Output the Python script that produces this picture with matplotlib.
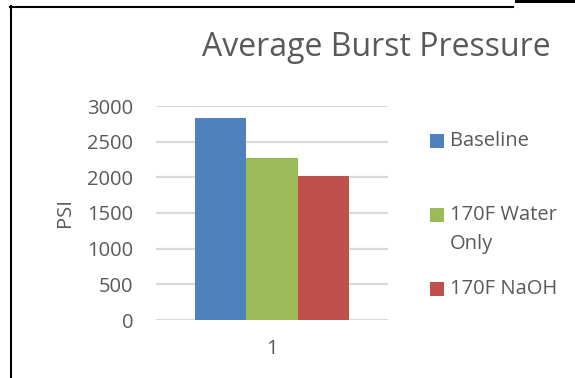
import matplotlib
matplotlib.use("Agg")
import matplotlib.pyplot as plt
from matplotlib.patches import Rectangle
from matplotlib.lines import Line2D

plt.rcParams['font.family'] = ['Open Sans', 'DejaVu Sans']

title = "Average Burst Pressure"
ylabel = "PSI"
categories = ["1"]
series_names = ["Baseline", "170F Water\nOnly", "170F NaOH"]
series_values = [2830, 2270, 2020]
series_colors = ["#4F81BD", "#9BBB59", "#C0504D"]
yticks = [0, 500, 1000, 1500, 2000, 2500, 3000]

W, H = 575, 378
TXT = "#595959"
FS = 14.5
fig = plt.figure(figsize=(W / 100, H / 100), dpi=100)
fig.patch.set_facecolor("white")

def fx(px):
    return px / W

def fy(py):
    return 1 - py / H

ax = fig.add_axes([fx(156), fy(320), fx(388) - fx(156), fy(106) - fy(320)])
ax.set_ylim(0, 3000)
ax.set_xlim(0.5, 1.5)

bw = 0.2227
n = len(series_values)
for i, (name, val, col) in enumerate(zip(series_names, series_values, series_colors)):
    ax.bar(1 + (i - (n - 1) / 2) * bw, val, width=bw, color=col, zorder=3)

ax.set_yticks(yticks)
ax.set_yticklabels([str(t) for t in yticks])
ax.set_xticks([1])
ax.set_xticklabels(categories)
ax.yaxis.grid(True, color="#D9D9D9", linewidth=1.6, zorder=0)
ax.set_axisbelow(True)
for s in ax.spines.values():
    s.set_visible(False)
ax.tick_params(axis="both", length=0, labelsize=FS, colors=TXT)
ax.tick_params(axis="y", pad=16.5)
ax.tick_params(axis="x", pad=14)
ax.set_ylabel(ylabel, fontsize=FS, color=TXT, labelpad=8.5)

fig.text(fx(376), fy(47), title, ha="center", va="center", fontsize=23, color=TXT)

# legend (handle aligned with the first text line, as in the reference)
leg_y = [141, 215, 289]
for name, col, yy in zip(series_names, series_colors, leg_y):
    fig.add_artist(Rectangle((fx(430), fy(yy + 7)), fx(444) - fx(430), fy(yy - 7) - fy(yy + 7),
                             transform=fig.transFigure, facecolor=col, edgecolor="none"))
    for k, line in enumerate(name.split("\n")):
        fig.text(fx(450), fy(yy + 29 * k), line, ha="left", va="center", fontsize=FS, color=TXT)

# frame pieces
fig.add_artist(Line2D([fx(10), fx(513)], [fy(6.5), fy(6.5)], color="black", linewidth=1.5,
                      transform=fig.transFigure))
fig.add_artist(Line2D([fx(11), fx(11)], [fy(6), fy(378)], color="black", linewidth=1.5,
                      transform=fig.transFigure))
fig.add_artist(Rectangle((fx(515), fy(3)), fx(575) - fx(515), fy(0) - fy(3),
                         transform=fig.transFigure, facecolor="black", edgecolor="none"))

fig.savefig("out.png", dpi=100)
